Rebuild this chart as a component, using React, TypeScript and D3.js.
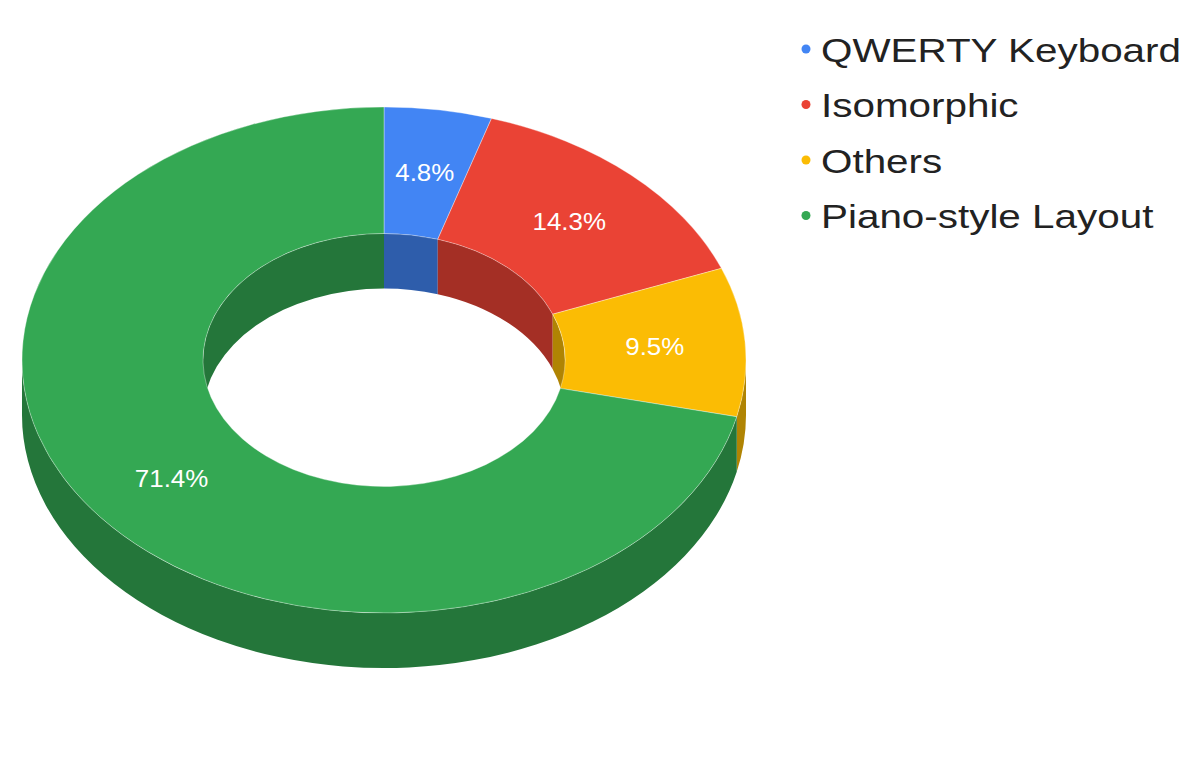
import React from "react";
import * as d3 from "d3";

// data
const categories = ["QWERTY Keyboard", "Isomorphic", "Others", "Piano-style Layout"];
const values = [4.8, 14.3, 9.5, 71.4];
const colors = ["#4285f4", "#ea4335", "#fbbc04", "#34a853"];

const width = 1200;
const height = 778;

const cx = 384;
const cy = 360;
const rx = 362; // outer radius (horizontal)
const ry = 253; // outer radius (vertical, tilt)
const k = ry / rx;
const depth = 55;
const D = depth / k; // depth in unscaled circle space
const inner = rx * 0.5;

const fontFamily = "'Liberation Sans', Arial, sans-serif";

// shade for the side walls
const darker = (c: string) => {
    const rgb = d3.rgb(c);
    return d3.rgb(rgb.r * 0.7, rgb.g * 0.7, rgb.b * 0.7).formatHex();
};

// wall between top edge and bottom edge of a ring at radius r, from t0 to t1 (d3.arc angle convention)
const wallPath = (r: number, t0: number, t1: number) => {
    const p = d3.path();
    const a0 = t0 - Math.PI / 2;
    const a1 = t1 - Math.PI / 2;
    p.moveTo(r * Math.cos(a0), r * Math.sin(a0));
    p.arc(0, 0, r, a0, a1, false);
    p.lineTo(r * Math.cos(a1), r * Math.sin(a1) + D);
    p.arc(0, D, r, a1, a0, true);
    p.closePath();
    return p.toString();
};

type Slice = d3.PieArcDatum<number>;

const App: React.FC = () => {
    const pie = d3.pie<number>().value((d) => d).sort(null);
    const slices: Slice[] = pie(values);
    const total = d3.sum(values);

    const arc = d3.arc<Slice>().innerRadius(inner).outerRadius(rx);

    // outer wall is seen from 90° to 270°
    const outerWalls = slices
        .map((s, i) => {
            const a = Math.max(s.startAngle, Math.PI / 2);
            const b = Math.min(s.endAngle, (3 * Math.PI) / 2);
            return a < b ? { i, d: wallPath(rx, a, b) } : null;
        })
        .filter(Boolean) as { i: number; d: string }[];

    // inner wall is seen through the hole, on its far side (270°..360° and 0°..90°)
    const innerWalls: { i: number; d: string }[] = [];
    slices.forEach((s, i) => {
        const ranges: [number, number][] = [
            [0, Math.PI / 2],
            [(3 * Math.PI) / 2, 2 * Math.PI],
        ];
        ranges.forEach(([lo, hi]) => {
            const a = Math.max(s.startAngle, lo);
            const b = Math.min(s.endAngle, hi);
            if (a < b) innerWalls.push({ i, d: wallPath(inner, a, b) });
        });
    });

    return (
        <svg
            width={width}
            height={height}
            style={{ position: "absolute", left: 0, top: 0, background: "#fff" }}
        >
            <g transform={`translate(${cx},${cy}) scale(1,${k})`}>
                {innerWalls.map((w, j) => (
                    <path key={`in${j}`} d={w.d} fill={darker(colors[w.i])} />
                ))}
                {outerWalls.map((w, j) => (
                    <path key={`out${j}`} d={w.d} fill={darker(colors[w.i])} />
                ))}
                {slices.map((s, i) => (
                    <path
                        key={`top${i}`}
                        d={arc(s) as string}
                        fill={colors[i]}
                        stroke="#fff"
                        strokeOpacity={0.35}
                        strokeWidth={1}
                        vectorEffect="non-scaling-stroke"
                    />
                ))}
            </g>

            {/* percentage labels */}
            {slices.map((s, i) => {
                const [x, y] = arc.centroid(s);
                return (
                    <text
                        key={`lab${i}`}
                        transform={`translate(${cx + x},${cy + y * k}) scale(1.08,1)`}
                        textAnchor="middle"
                        dy="0.36em"
                        fill="#fff"
                        fontFamily={fontFamily}
                        fontSize={24}
                    >
                        {((s.data / total) * 100).toFixed(1)}%
                    </text>
                );
            })}

            {/* legend */}
            {categories.map((c, i) => (
                <g key={c} transform={`translate(806,${49 + i * 55.5})`}>
                    <circle r={4.5} fill={colors[i]} />
                    <text
                        transform="translate(15,12.5) scale(1.225,1)"
                        fill="#222"
                        fontFamily={fontFamily}
                        fontSize={33}
                    >
                        {c}
                    </text>
                </g>
            ))}
        </svg>
    );
};

export default App;
